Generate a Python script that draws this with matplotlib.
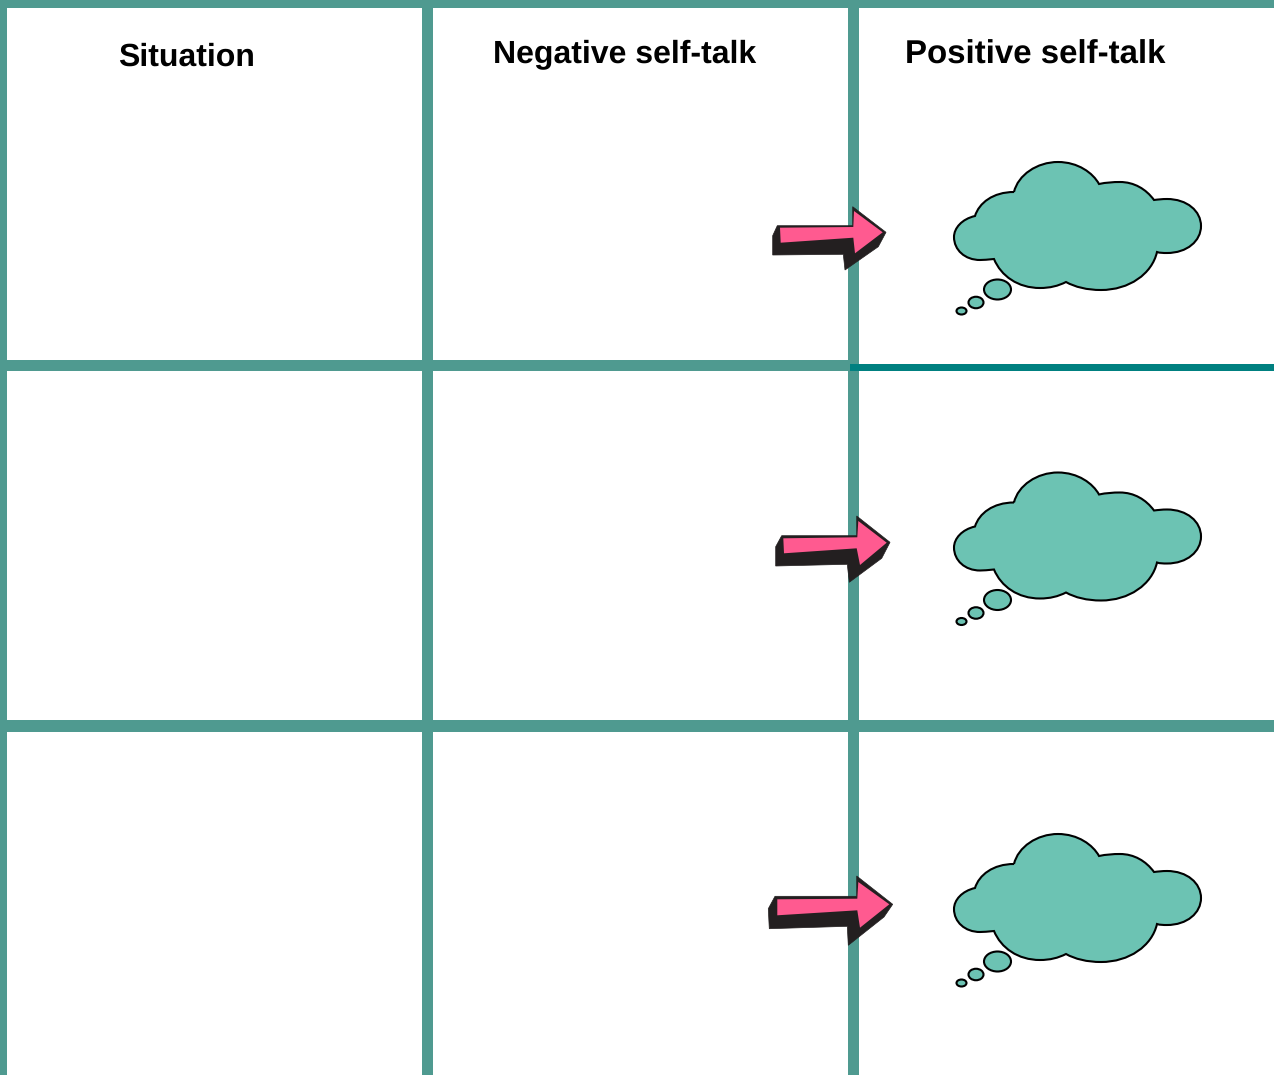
import matplotlib
matplotlib.use('Agg')
import matplotlib.pyplot as plt
from matplotlib.patches import PathPatch, Polygon, Ellipse, Rectangle
from matplotlib.path import Path

plt.rcParams['text.hinting'] = 'no_hinting'
plt.rcParams['text.hinting_factor'] = 1

# Header labels
headers = ['Situation', 'Negative self-talk', 'Positive self-talk']
header_x = [118, 493, 905]
header_y = [66, 62, 64]
header_size = [23.2, 23.05, 23.75]

# Grid bands, (start, end) in pixels
v_bands = [(0, 7), (422, 433), (848, 859)]
h_bands = [(0, 8), (360, 371), (720, 732)]
h_band_end = [1274, 851, 1274]

# Row offset of the cloud drawing
cloud_dy = [0, 310.5, 672]

grid_color = '#4f9a90'
teal_color = '#008080'
cloud_color = '#6cc3b3'
pink_color = '#ff5a90'
dark_color = '#231f20'

# Cloud outline, start point then cubic segments
cloud_start = (1014, 192)
cloud_curves = [
    [(1018, 175), (1037, 162), (1058, 162)],
    [(1078, 162), (1093, 173), (1099, 184)],
    [(1106, 182.5), (1113, 182), (1120, 182)],
    [(1134, 182), (1146, 189), (1154, 200)],
    [(1158, 199.5), (1162, 199), (1167, 199)],
    [(1187, 199), (1201, 211), (1201, 226)],
    [(1201, 241), (1187, 253), (1167, 253)],
    [(1163, 253), (1160, 253), (1157, 252)],
    [(1152, 274), (1129, 290), (1101, 290)],
    [(1087, 290), (1075, 287), (1066, 282)],
    [(1058, 286), (1050, 288), (1040, 288)],
    [(1018, 288), (1001, 276), (994, 259)],
    [(988, 259.5), (984, 260), (980, 260)],
    [(965, 260), (954, 250), (954, 237)],
    [(954, 228), (962, 219), (975, 216)],
    [(979, 203), (993, 192), (1014, 192)],
]

# Thought bubbles: centre x, centre y, width, height
bubbles = [(997.5, 289.5, 27, 20), (976, 302.5, 15, 11.5), (961.5, 311, 10, 7)]

# Arrows differ a little from row to row
arrow_backs = [
    [(777.3, 225.7), (852.7, 225.7), (852.7, 206.7), (886, 232.3), (878.3, 246.7),
     (845, 270), (843.3, 254.3), (772.7, 255), (772.7, 235.7)],
    [(781.7, 535.7), (856.7, 535.7), (856.7, 516), (890, 542.3), (881.7, 558.3),
     (849.3, 582.3), (847.3, 564.3), (775.7, 566), (775.7, 546.7)],
    [(775, 896.3), (856.7, 896.3), (856.7, 876), (892.7, 904.3), (884, 917),
     (848.3, 945.3), (847.3, 926.3), (769.3, 928.7), (768.3, 908.7)],
]
arrow_fronts = [
    [(780, 227.7), (853.3, 227), (854, 211), (882.7, 232.3), (855, 253.3),
     (853.3, 237.7), (780.7, 242.7)],
    [(783.3, 538.3), (857.3, 537.3), (858.3, 521), (886.7, 542.7), (860, 565),
     (856.7, 548.3), (784, 553.3)],
    [(777.3, 899.3), (857.3, 898.7), (858.3, 882), (889.3, 904.3), (860, 927.7),
     (857.3, 910.3), (777.3, 915.3)],
]


def shift(points, dy):
    return [(x, y + dy) for x, y in points]


fig = plt.figure(figsize=(12.74, 10.75), dpi=100)
ax = fig.add_axes([0, 0, 1, 1])
ax.set_xlim(0, 1274)
ax.set_ylim(1075, 0)
ax.axis('off')

# Grid
for x0, x1 in v_bands:
    ax.add_patch(Rectangle((x0, 0), x1 - x0, 1075, fc=grid_color, ec='none', zorder=1))
for (y0, y1), x_end in zip(h_bands, h_band_end):
    ax.add_patch(Rectangle((0, y0), x_end, y1 - y0, fc=grid_color, ec='none', zorder=1))
ax.add_patch(Rectangle((850, 364), 424, 7, fc=teal_color, ec='none', zorder=2))

for name, x, y, size in zip(headers, header_x, header_y, header_size):
    ax.text(x, y, name, ha='left', va='baseline', fontsize=size, fontweight='bold',
            family='Liberation Sans', color='black', zorder=5)

for i in range(3):
    # Cloud
    verts = [(cloud_start[0], cloud_start[1] + cloud_dy[i])]
    codes = [Path.MOVETO]
    for seg in cloud_curves:
        verts += shift(seg, cloud_dy[i])
        codes += [Path.CURVE4] * 3
    ax.add_patch(PathPatch(Path(verts, codes), fc=cloud_color, ec='black', lw=1.5, zorder=3))
    for bx, by, bw, bh in bubbles:
        ax.add_patch(Ellipse((bx, by + cloud_dy[i]), bw, bh, fc=cloud_color, ec='black',
                             lw=1.5, zorder=3))

    # Arrow
    ax.add_patch(Polygon(arrow_backs[i], closed=True, fc=dark_color, ec=dark_color,
                         lw=0.5, zorder=4))
    ax.add_patch(Polygon(arrow_fronts[i], closed=True, fc=pink_color, ec='none', zorder=4))

fig.savefig('out.png', dpi=100, facecolor='white')
